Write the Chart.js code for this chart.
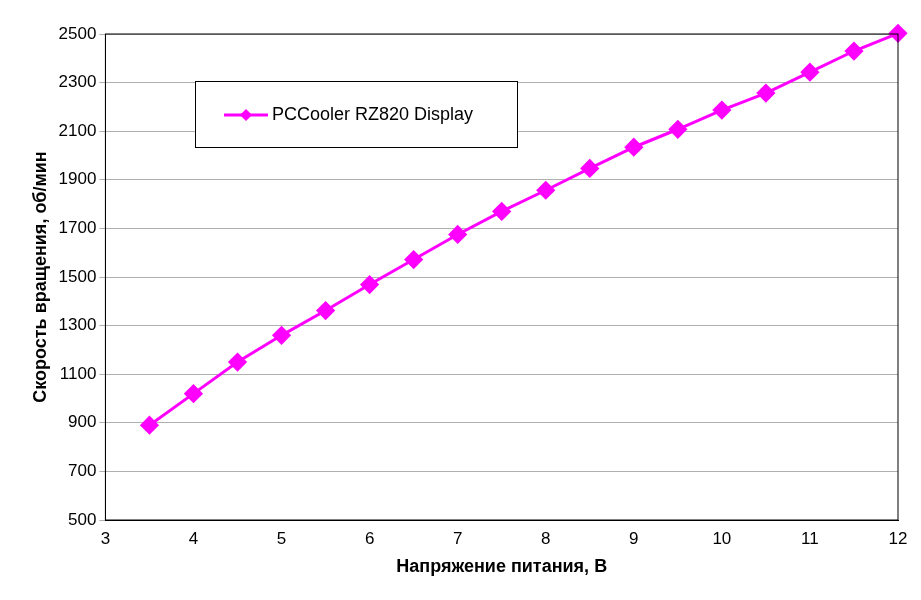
<!DOCTYPE html>
<html>
<head>
<meta charset="utf-8">
<script src="https://cdn.jsdelivr.net/npm/chart.js@4/dist/chart.umd.min.js"></script>
<style>
  html, body { margin: 0; padding: 0; background: #fff; }
  #wrap { width: 921px; height: 600px; }
</style>
</head>
<body>
<div id="wrap"><canvas id="chart"></canvas></div>
<script>
const voltages = [3.5, 4, 4.5, 5, 5.5, 6, 6.5, 7, 7.5, 8, 8.5, 9, 9.5, 10, 10.5, 11, 11.5, 12];
const rpm = [890, 1020, 1150, 1260, 1362, 1469, 1572, 1675, 1770, 1857, 1947, 2034, 2108, 2187, 2257, 2343, 2430, 2503];
const seriesName = 'PCCooler RZ820 Display';
const xTitle = 'Напряжение питания, В';
const yTitle = 'Скорость вращения, об/мин';

const legendBox = {
    id: 'legendBox',
    afterDraw(chart) {
        const ctx = chart.ctx;
        ctx.save();
        ctx.fillStyle = '#fff';
        ctx.fillRect(195, 81, 322, 66);
        ctx.strokeStyle = '#000';
        ctx.lineWidth = 1;
        ctx.strokeRect(195.5, 81.5, 322, 66);
        ctx.strokeStyle = '#ff00ff';
        ctx.lineWidth = 3;
        ctx.beginPath();
        ctx.moveTo(224, 115);
        ctx.lineTo(268, 115);
        ctx.stroke();
        ctx.fillStyle = '#ff00ff';
        ctx.beginPath();
        ctx.moveTo(246, 109); ctx.lineTo(252, 115); ctx.lineTo(246, 121); ctx.lineTo(240, 115);
        ctx.closePath();
        ctx.fill();
        ctx.fillStyle = '#000';
        ctx.font = '18px "Liberation Sans", Arial, sans-serif';
        ctx.textBaseline = 'middle';
        ctx.fillText(seriesName, 272, 115);
        ctx.restore();
    }
};

new Chart(document.getElementById('chart'), {
    type: 'line',
    data: {
        datasets: [{
            label: seriesName,
            data: voltages.map((v, i) => ({ x: v, y: rpm[i] })),
            borderColor: '#ff00ff',
            backgroundColor: '#ff00ff',
            borderWidth: 3,
            pointStyle: 'rectRot',
            pointRadius: 7.5,
            pointHoverRadius: 7.5,
            tension: 0,
            clip: false
        }]
    },
    options: {
        responsive: true,
        maintainAspectRatio: false,
        animation: false,
        layout: { padding: { top: 34, right: 23, bottom: 18, left: 26 } },
        plugins: { legend: { display: false }, tooltip: { enabled: false } },
        scales: {
            x: {
                type: 'linear', min: 3, max: 12,
                ticks: { stepSize: 1, color: '#000', font: { size: 17, family: '"Liberation Sans", Arial' } },
                grid: { display: false, drawTicks: true, tickLength: 6 },
                border: { color: '#000', width: 1 },
                title: { display: true, text: xTitle, color: '#000', font: { size: 18, weight: 'bold', family: '"Liberation Sans", Arial' } }
            },
            y: {
                min: 500, max: 2500,
                ticks: { stepSize: 200, color: '#000', callback: v => String(v), font: { size: 17, family: '"Liberation Sans", Arial' } },
                grid: { color: '#b0b0b0', tickLength: 6 },
                border: { color: '#000', width: 1 },
                title: { display: true, text: yTitle, color: '#000', font: { size: 18, weight: 'bold', family: '"Liberation Sans", Arial' } }
            }
        }
    },
    plugins: [legendBox, {
        id: 'frame',
        afterDraw(chart) {
            const a = chart.chartArea, ctx = chart.ctx;
            ctx.save();
            ctx.strokeStyle = '#000';
            ctx.lineWidth = 1;
            ctx.strokeRect(a.left, a.top, a.right - a.left, a.bottom - a.top);
            ctx.restore();
        }
    }]
});
</script>
</body>
</html>
